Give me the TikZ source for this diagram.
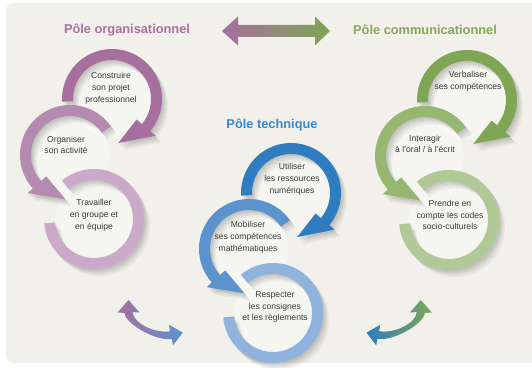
\documentclass[tikz,border=0pt]{standalone}
\usepackage{fontspec}
\setmainfont{Liberation Sans}
\definecolor{bgc}{HTML}{F1F0EA}
\definecolor{pA}{HTML}{A66F9E}
\definecolor{pB}{HTML}{B58AB0}
\definecolor{pC}{HTML}{CBA9C8}
\definecolor{bA}{HTML}{2F7DC0}
\definecolor{bB}{HTML}{5B93CE}
\definecolor{bC}{HTML}{8FB3DC}
\definecolor{gA}{HTML}{7FA655}
\definecolor{gB}{HTML}{96B76F}
\definecolor{gC}{HTML}{B1C996}
\definecolor{tP}{HTML}{B06DA4}
\definecolor{tB}{HTML}{3B88CA}
\definecolor{tG}{HTML}{86A85A}
\definecolor{txt}{HTML}{3A3A3A}
\newcommand\ringpathA{(183:50) arc[start angle=183, end angle=-40, radius=50] -- (-40:57) -- (-82:44.5) -- (-40:32) -- (-40:39) arc[start angle=-40, end angle=183, radius=39] -- cycle}
\newcommand\ringpathB{(35:50) arc[start angle=35, end angle=222, radius=50] -- (222:57) -- (264:44.5) -- (222:32) -- (222:39) arc[start angle=222, end angle=35, radius=39] -- cycle}
\newcommand\ringpathC{(-175:50) arc[start angle=-175, end angle=130, radius=50] -- (130:39) arc[start angle=130, end angle=-175, radius=39] -- cycle}
\newcommand\myglow[2]{\fill[white, opacity=0.35] (#1,#2) circle[radius=39];}
\newcommand\myshadow[3]{%
  \begin{scope}[shift={(#2,#3)}]
    \foreach \s/\o in {1.5/0.06, 3/0.06, 4.5/0.05, 6/0.04}{
      \fill[black, opacity=\o, shift={(\s,-1.2*\s)}] #1;
    }
  \end{scope}}
\newcommand\myring[4]{\begin{scope}[shift={(#2,#3)}]\fill[#4] #1;\end{scope}}
\newcommand\mygroup[9]{%
  \myglow{#1}{#2}\myglow{#3}{#4}\myglow{#5}{#6}
  \myshadow{\ringpathC}{#5}{#6}\myshadow{\ringpathB}{#3}{#4}\myshadow{\ringpathA}{#1}{#2}
  \myring{\ringpathC}{#5}{#6}{#9}
  \myring{\ringpathB}{#3}{#4}{#8}
  \myring{\ringpathA}{#1}{#2}{#7}}
\tikzset{
  lab/.style={align=center, text=txt, font=\fontsize{8.6}{11.8}\selectfont, inner sep=0pt},
  pole/.style={font=\fontsize{12.8}{14}\selectfont\bfseries, inner sep=0pt}
}
\begin{document}
\begin{tikzpicture}[x=1pt,y=1pt]
\useasboundingbox (0,0) rectangle (532,367);
\clip (0,0) rectangle (532,367);
\fill[white] (0,0) rectangle (532,367);
\fill[bgc, rounded corners=8pt] (6,4) rectangle (545,364);

% titles
\node[pole, text=tP] (tpo) at (127,337) {Pôle organisationnel};
\node[pole, text=tG] (tpc) at (425,337) {Pôle communicationnel};
\node[pole, text=tB] (tpt) at (272,242) {Pôle technique};

% top double arrow
\shade[left color=pA, right color=gA] (222,336) -- (238,350.5) -- (238,342) -- (315,342) -- (315,350.5) -- (330,336) -- (315,321.5) -- (315,330) -- (238,330) -- (238,321.5) -- cycle;

% purple group
\mygroup{112}{268}{70}{212}{94}{148}{pA}{pB}{pC}
\node[lab] (p1) at (111,279) {Construire\\son projet\\professionnel};
\node[lab] (p2) at (66,222) {Organiser\\son activité};
\node[lab] (p3) at (94,152) {Travailler\\en groupe et\\en équipe};

% blue group
\mygroup{291}{174}{249}{118}{273}{54}{bA}{bB}{bC}
\node[lab] (b1) at (292,188) {Utiliser\\les ressources\\numériques};
\node[lab] (b2) at (248,130) {Mobiliser\\ses compétences\\mathématiques};
\node[lab] (b3) at (275,60) {Respecter\\les consignes\\et les règlements};

% green group
\mygroup{467}{267}{425}{211}{449}{147}{gA}{gB}{gC}
\node[lab] (g1) at (468,286) {Verbaliser\\ses compétences};
\node[lab] (g2) at (425,223) {Interagir\\à l'oral / à l'écrit};
\node[lab] (g3) at (450,152) {Prendre en\\compte les codes\\socio-culturels};

% bottom curved double arrows
\shade[left color=pA, right color=bB] (128.5,67) -- (139.5,54.5) -- (132.5,54.9) .. controls (133.7,42.9) and (156.5,33.1) .. (170.2,35.9) -- (168.9,42.3) -- (182.8,34.4) -- (173.1,21.7) -- (171.8,28.1) .. controls (158.1,25.3) and (125.7,42.1) .. (124.5,54.1) -- (117.5,54.5) -- cycle;
\shade[left color=bA, right color=gA] (420.8,67) -- (409.8,54.5) -- (416.8,54.9) .. controls (415.6,42.9) and (392.8,33.1) .. (379.1,35.9) -- (380.4,42.3) -- (366.5,34.4) -- (376.2,21.7) -- (377.5,28.1) .. controls (391.2,25.3) and (423.6,42.1) .. (424.8,54.1) -- (431.8,54.5) -- cycle;
\end{tikzpicture}
\end{document}
